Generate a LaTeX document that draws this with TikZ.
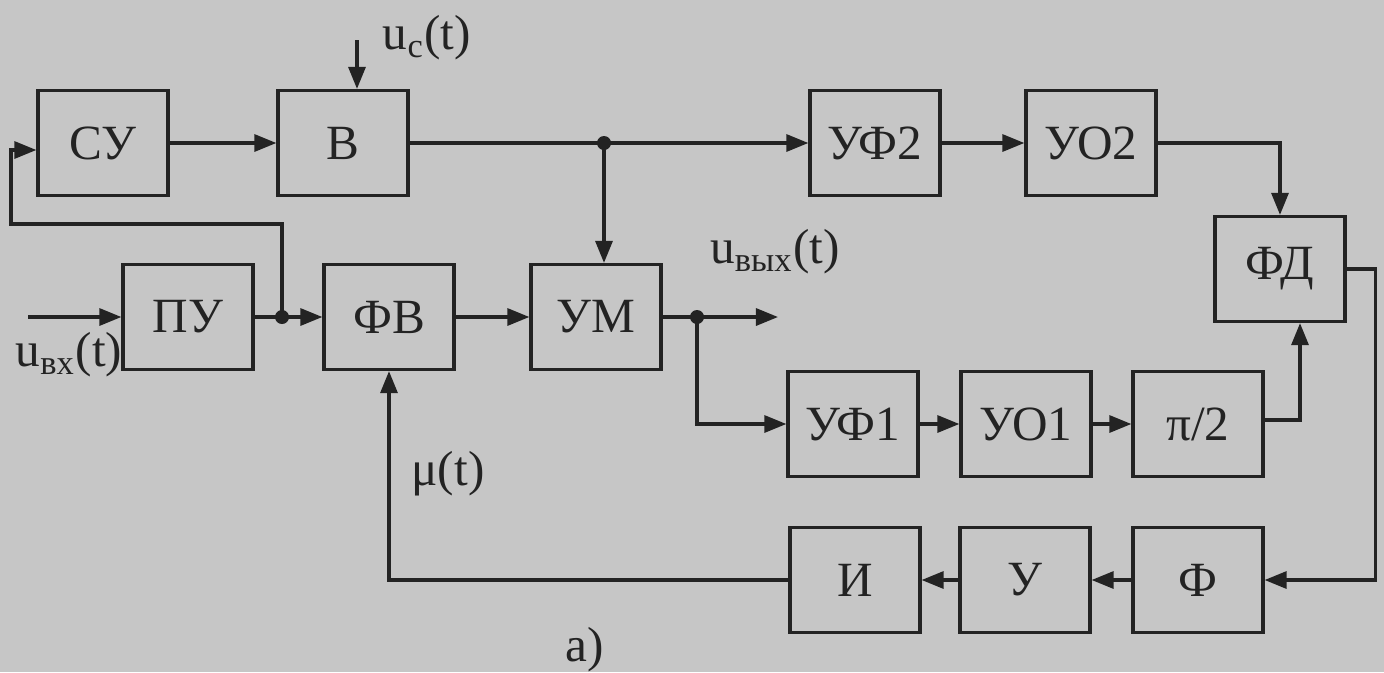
\documentclass[tikz,border=0pt]{standalone}
\usepackage{fontspec}
\setmainfont{Liberation Serif}
\usetikzlibrary{positioning,arrows.meta}
\definecolor{scan}{RGB}{198,198,198}
\definecolor{ink}{RGB}{35,35,35}
\begin{document}
\begin{tikzpicture}[x=0.01cm, y=-0.01cm, color=ink, line width=0.9pt,
    > = {Triangle[length=2.2mm, width=1.7mm]}]
    \tikzset{
      block/.style={
        draw, rectangle, minimum width=1.3cm, minimum height=1.05cm,
      },
      every node/.style={font=\fontsize{14}{16}\selectfont},
      dot/.style={circle, fill, inner sep=0pt, minimum size=1.4mm},
    }
    \fill[scan] (0,0) rectangle (1384,672);
    \useasboundingbox (0,0) rectangle (1384,672);
    % blocks
    \node (su) [block] at (103,143) {СУ};
    \node (v) [block] at (343,143) {В};
    \node (uf2) [block] at (875,143) {УФ2};
    \node (uo2) [block] at (1091,143) {УО2};
    \node (fd) [block] at (1280,269) {ФД};
    \node (pu) [block] at (188,317) {ПУ};
    \node (fv) [block] at (389,317) {ФВ};
    \node (um) [block] at (596,317) {УМ};
    \foreach \name/\x/\txt in {uf1/853/УФ1, uo1/1026/УО1, pi/1198/{π/2}} {
      \node (\name) [block] at (\x,424) {\txt};
    }
    \foreach \name/\x/\txt in {i/855/И, u/1025/У, f/1198/Ф} {
      \node (\name) [block] at (\x,580) {\txt};
    }
    % junctions and free ends
    \coordinate (j1) at (604,143);
    \coordinate (j2) at (282,317);
    \coordinate (j3) at (697,317);
    \coordinate (in) at (28,317);
    \coordinate (out) at (778,317);
    \coordinate (uc) at (357,40);
    \coordinate (fb) at (11,224);
    % labels
    \node (ucl) at (427,38) {u\textsubscript{с}(t)};
    \node (inl) at (69,355) {u\textsubscript{вх}(t)};
    \node (outl) at (775,252) {u\textsubscript{вых}(t)};
    \node (mul) at (448,474) {μ(t)};
    \node (cap) at (585,650) {а)};
    % arrows
    \draw[->] (uc) -- (uc |- v.north);
    \draw[->] (su) -- (v);
    \draw[->] (v) -- (uf2);
    \draw[->] (j1) -- (j1 |- um.north);
    \draw[->] (uf2) -- (uo2);
    \draw[->] (uo2.east) -| (fd.north);
    \draw[->] (in) -- (pu);
    \draw[->] (pu) -- (fv);
    \draw[->] (j2) |- (fb) |- ([yshift=-0.07cm]su.west);
    \draw[->] (fv) -- (um);
    \draw[->] (um) -- (out);
    \draw[->] (j3) |- (uf1.west);
    \foreach \from\to in {uf1/uo1, uo1/pi, f/u, u/i} {
      \draw[->] (\from) -- (\to);
    }
    \draw[->] ([yshift=0.04cm]pi.east) -| ([xshift=0.2cm]fd.south);
    \draw[->] (fd.east) -- ++(29,0) |- (f.east);
    \draw[->] (i.west) -| (fv.south);
    \foreach \j in {j1, j2, j3} {
      \node[dot] at (\j) {};
    }
\end{tikzpicture}
\end{document}
